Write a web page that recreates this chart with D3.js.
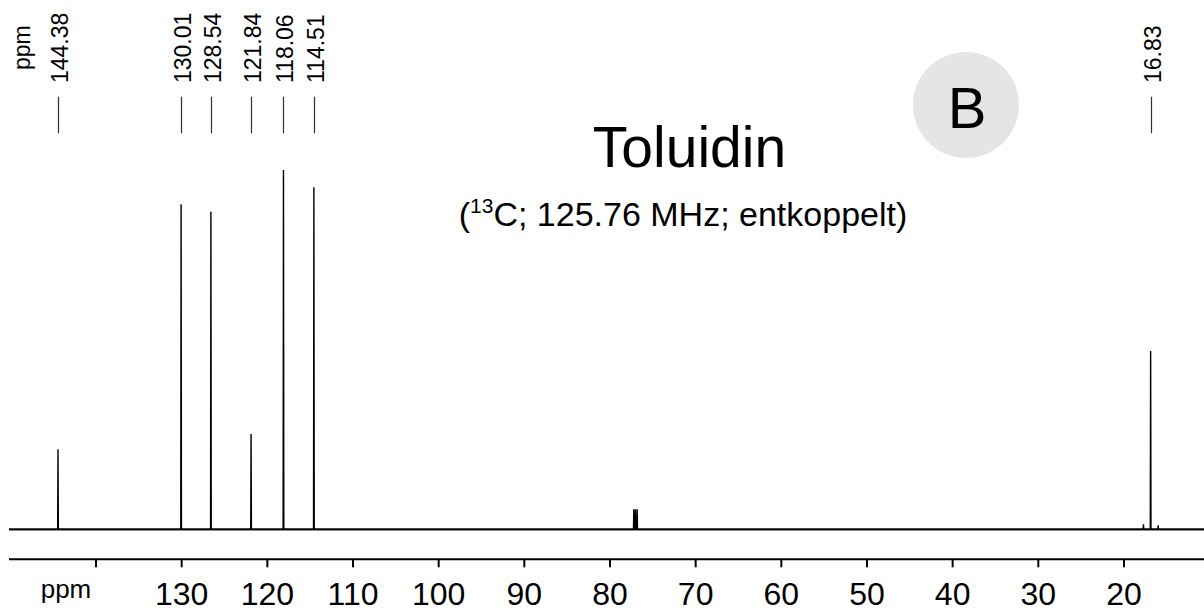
<!DOCTYPE html>
<html>
<head>
<meta charset="utf-8">
<script src="https://cdn.jsdelivr.net/npm/d3@7"></script>
<style>
  html, body { margin: 0; padding: 0; background: #fff; }
  svg { display: block; font-family: "Liberation Sans", Arial, sans-serif; }
</style>
</head>
<body>
<svg id="chart" width="1204" height="611"></svg>
<script>
// ---- data ----
const peakPpm      = [144.38, 130.01, 126.53, 121.84, 118.06, 114.51, 16.83];
const peakHeight   = [22.3, 90.5, 88.4, 26.5, 100, 95.2, 49.6];
const peakLabels   = ["144.38", "130.01", "128.54", "121.84", "118.06", "114.51", "16.83"];
const solventPpm   = [77.16, 76.97, 76.77];
const solventHeight= [5.6, 5.6, 5.6];
const minorPpm     = [17.67, 15.95];
const minorHeight  = [1.4, 1.1];
const tickValues   = [140, 130, 120, 110, 100, 90, 80, 70, 60, 50, 40, 30, 20];
const tickLabels   = ["", "130", "120", "110", "100", "90", "80", "70", "60", "50", "40", "30", "20"];
const title        = "Toluidin";
const panelLetter  = "B";

// ---- layout ----
const svg = d3.select("#chart");
const x = d3.scaleLinear().domain([150.1, 10.6]).range([9, 1204]);
const y = d3.scaleLinear().domain([0, 100]).range([529.3, 170]);
const axisY = 559.3;

// panel letter circle
svg.append("circle").attr("cx", 966).attr("cy", 105).attr("r", 53).attr("fill", "#e5e5e5");
svg.append("text").attr("x", 967).attr("y", 127.7).attr("text-anchor", "middle")
  .style("font-size", "58px").attr("fill", "#000").text(panelLetter);

// title
svg.append("text").attr("x", 689.5).attr("y", 166.7).attr("text-anchor", "middle")
  .style("font-size", "57px").attr("fill", "#000").text(title);
const sub = svg.append("text").attr("x", 683).attr("y", 226).attr("text-anchor", "middle")
  .style("font-size", "34px").attr("fill", "#000");
sub.append("tspan").text("(");
sub.append("tspan").style("font-size", "21px").attr("dy", -13).text("13");
sub.append("tspan").attr("dy", 13).text("C; 125.76 MHz; entkoppelt)");

// spectrum baseline band
svg.append("line").attr("x1", x.range()[0]).attr("x2", x.range()[1])
  .attr("y1", y(0) + 0.3).attr("y2", y(0) + 0.3)
  .attr("stroke", "#1a1a1a").attr("stroke-width", 2);

// spectrum path
const all = [];
peakPpm.forEach((p, i) => all.push({ppm: p, h: peakHeight[i]}));
solventPpm.forEach((p, i) => all.push({ppm: p, h: solventHeight[i]}));
minorPpm.forEach((p, i) => all.push({ppm: p, h: minorHeight[i]}));
all.sort((a, b) => b.ppm - a.ppm);
const hw = 0.04;
const pts = [[x.domain()[0], 0]];
all.forEach(d => {
  pts.push([d.ppm + hw, 0]);
  pts.push([d.ppm, d.h]);
  pts.push([d.ppm - hw, 0]);
});
pts.push([x.domain()[1], 0]);
const line = d3.line().x(d => x(d[0])).y(d => y(d[1]));
svg.append("path").attr("d", line(pts)).attr("fill", "none")
  .attr("stroke", "#000").attr("stroke-width", 1.4).attr("stroke-linejoin", "miter");

// peak labels
const lab = svg.append("g");
peakPpm.forEach((p, i) => {
  const px = Math.round(x(p)) + 0.5;
  lab.append("line").attr("x1", px).attr("x2", px).attr("y1", 96.7).attr("y2", 133.3)
    .attr("stroke", "#333").attr("stroke-width", 1.2);
  lab.append("text").attr("transform", `translate(${px + 9.5},83) rotate(-90)`)
    .style("font-size", "23px").attr("fill", "#000").text(peakLabels[i]);
});
lab.append("text").attr("transform", `translate(30,70) rotate(-90)`)
  .style("font-size", "23px").attr("fill", "#000").text("ppm");

// x axis
const axis = d3.axisBottom(x).tickValues(tickValues)
  .tickFormat((d, i) => tickLabels[i]).tickSize(8).tickPadding(15);
const gx = svg.append("g").attr("transform", `translate(0,${axisY})`).call(axis);
gx.select(".domain").attr("d", `M${x.range()[0]},0H${x.range()[1]}`).attr("stroke", "#000").attr("stroke-width", 2);
gx.selectAll(".tick line").attr("stroke", "#000").attr("stroke-width", 2);
gx.selectAll(".tick text").style("font-size", "32px").attr("fill", "#000")
  .attr("font-family", "'Liberation Sans', Arial, sans-serif");
svg.append("text").attr("x", 66).attr("y", 598.3).attr("text-anchor", "middle")
  .style("font-size", "26px").attr("fill", "#000").text("ppm");
</script>
</body>
</html>
